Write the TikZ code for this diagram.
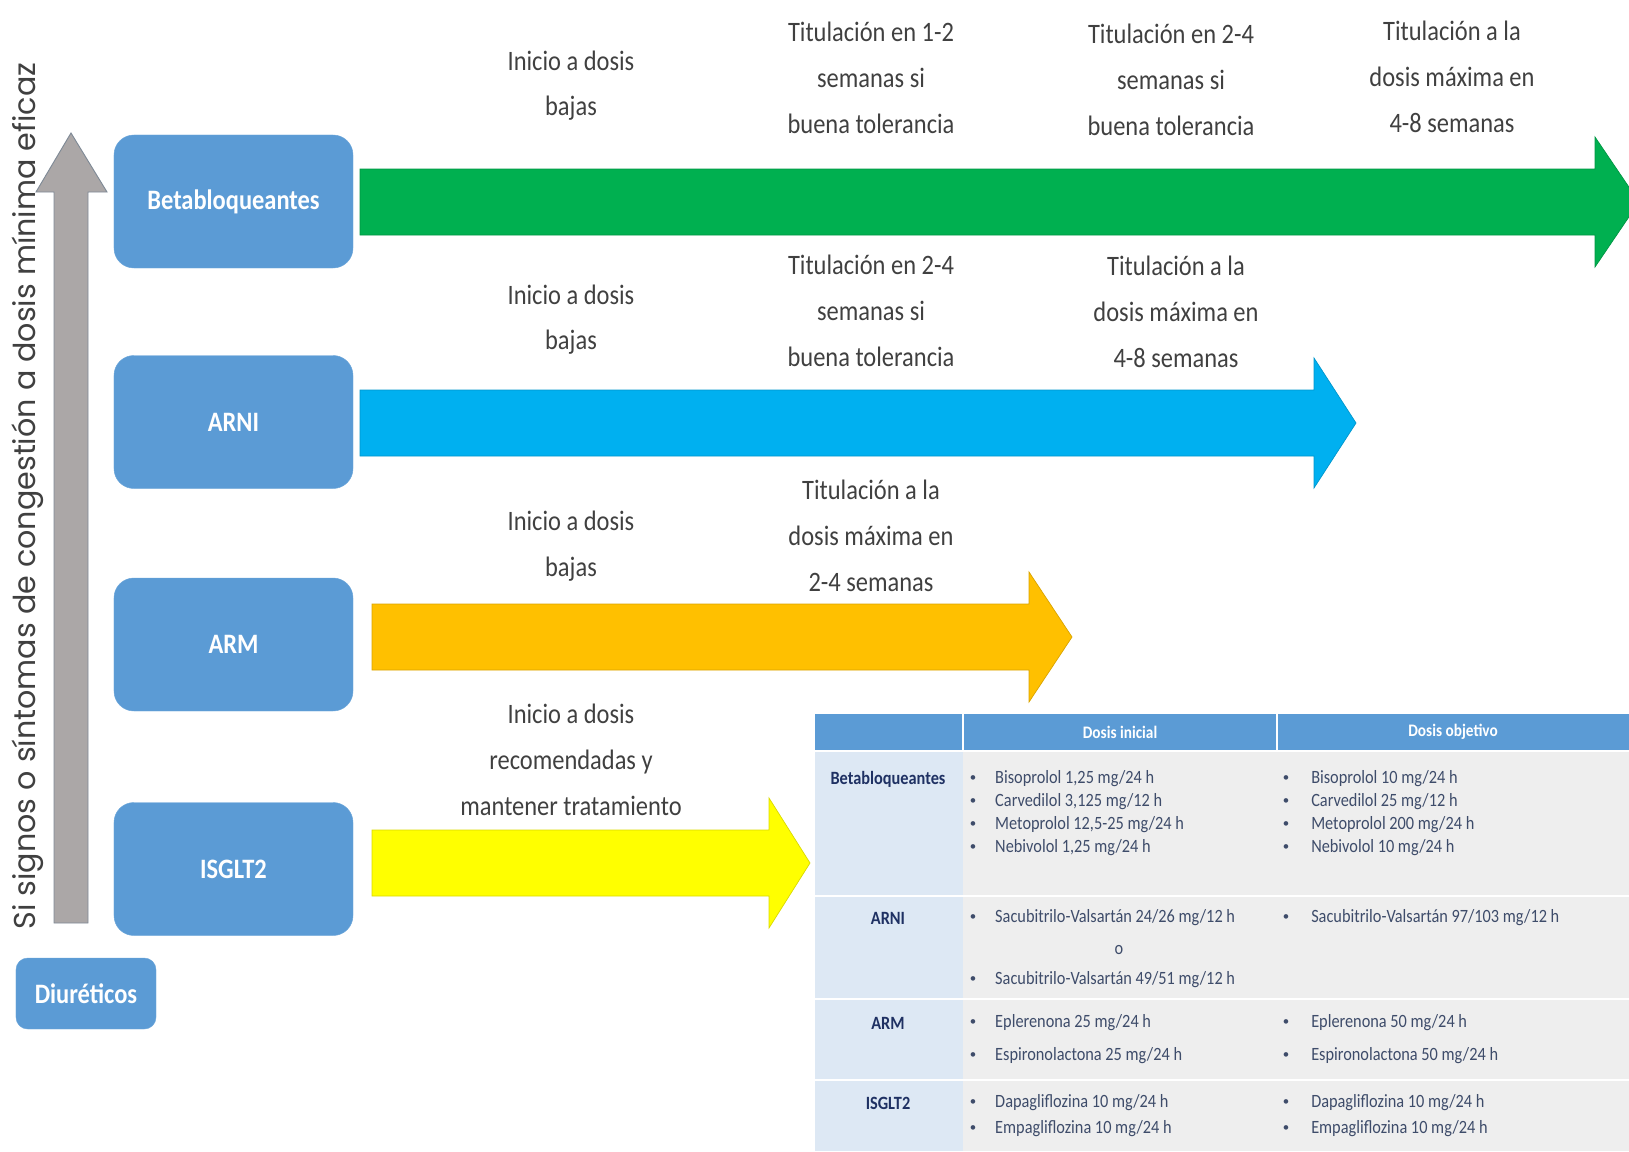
\documentclass[tikz,border=0pt]{standalone}
\usepackage{graphicx}
\usepackage{fontspec}
\setmainfont{Carlito}
\newfontfamily\narrowfont[FakeStretch=0.87]{Carlito}
\newfontfamily\geo{Poppins}
\definecolor{boxblue}{HTML}{5B9BD5}
\definecolor{arrgreen}{HTML}{00B050}
\definecolor{arrcyan}{HTML}{00B0F0}
\definecolor{arrorange}{HTML}{FFC000}
\definecolor{arryellow}{HTML}{FFFF00}
\definecolor{arrgray}{HTML}{ABA7A7}
\definecolor{arrgrayedge}{HTML}{7F8A96}
\definecolor{labgray}{HTML}{404040}
\definecolor{cellblue}{HTML}{DDE8F4}
\definecolor{cellgray}{HTML}{EEEEEE}
\definecolor{rowlab}{HTML}{1F3163}
\definecolor{itemtxt}{HTML}{3E4C6A}

% horizontal block arrow: colour, start x, head base x, tip x, centre y
\newcommand\fatarrow[5]{%
  \filldraw[fill=#1, draw=#1!85!black, line width=0.6pt]
    (#2,#5-33) -- (#3,#5-33) -- (#3,#5-65) -- (#4,#5) --
    (#3,#5+65) -- (#3,#5+33) -- (#2,#5+33) -- cycle;}

\tikzset{
  drug/.style={fill=boxblue, draw=boxblue!90!white, rounded corners=17pt,
    minimum width=7.17cm, minimum height=3.99cm, text=white,
    font=\narrowfont\fontsize{24}{28}\selectfont\bfseries, inner sep=0pt},
  steplabel/.style={align=center, text=labgray,
    font=\narrowfont\fontsize{24}{39}\selectfont, inner sep=0pt},
  hdr/.style={text=white, font=\narrowfont\fontsize{15}{17}\selectfont\bfseries, inner sep=0pt},
  rowname/.style={text=rowlab, font=\narrowfont\fontsize{16}{18}\selectfont\bfseries, inner sep=0pt},
  item/.style={anchor=west, text=itemtxt, font=\narrowfont\fontsize{16}{18}\selectfont, inner sep=0pt},
  bul/.style={text=itemtxt, font=\fontsize{11}{13}\selectfont, inner sep=0pt},
}

\begin{document}
\begin{tikzpicture}[x=0.03cm, y=-0.03cm]
\useasboundingbox (0,0) rectangle (1629,1151);
\begin{scope}
\clip (0,0) rectangle (1629,1151);

% vertical escalation arrow
\filldraw[fill=arrgray, draw=arrgrayedge, line width=0.8pt]
  (54,923) -- (54,192) -- (36,192) -- (71,133) -- (107,192) -- (88,192) -- (88,923) -- cycle;
\node[rotate=90, text=labgray, inner sep=0pt] (vtext) at (28,496)
  {\resizebox{26cm}{!}{\geo Si signos o síntomas de congestión a dosis mínima eficaz}};

% drug boxes
\node[drug] (bb) at (233.5,201.5) {Betabloqueantes};
\node[drug] (arni) at (233.5,422) {ARNI};
\node[drug] (arm) at (233.5,644.5) {ARM};
\node[drug] (isglt) at (233.5,869) {ISGLT2};
\node[drug, minimum width=4.2cm, minimum height=2.13cm, rounded corners=10pt] (diu) at (86,993.5) {Diuréticos};

% titration arrows
\fatarrow{arrgreen}{360}{1595}{1639}{202}
\fatarrow{arrcyan}{360}{1314}{1356}{423}
\fatarrow{arrorange}{372}{1029}{1072}{637}
\fatarrow{arryellow}{372}{769}{810}{863}

% step labels
\node[steplabel] (b1) at (571,85.5) {Inicio a dosis\\bajas};
\node[steplabel] (b2) at (871,78) {Titulación en 1-2\\semanas si\\buena tolerancia};
\node[steplabel] (b3) at (1171,80) {Titulación en 2-4\\semanas si\\buena tolerancia};
\node[steplabel] (b4) at (1452,77) {Titulación a la\\dosis máxima en\\4-8 semanas};
\node[steplabel] (a1) at (571,319.5) {Inicio a dosis\\bajas};
\node[steplabel] (a2) at (871,311) {Titulación en 2-4\\semanas si\\buena tolerancia};
\node[steplabel] (a3) at (1176,312) {Titulación a la\\dosis máxima en\\4-8 semanas};
\node[steplabel] (m1) at (571,546) {Inicio a dosis\\bajas};
\node[steplabel] (m2) at (871,536) {Titulación a la\\dosis máxima en\\2-4 semanas};
\node[steplabel] (s1) at (571,760) {Inicio a dosis\\recomendadas y\\mantener tratamiento};

% dose table
\fill[boxblue] (815,714) rectangle (1629,751);
\fill[cellblue] (815,751) rectangle (963,1151);
\fill[cellgray] (963,751) rectangle (1629,1151);
\draw[white, line width=1pt] (963,714) -- (963,751) (1277,714) -- (1277,751);
\draw[white, line width=1.5pt] (815,751) -- (1629,751)
  (815,896) -- (1629,896) (815,999) -- (1629,999) (815,1080) -- (1629,1080);
\node[hdr] (h1) at (1120,732) {Dosis inicial};
\node[hdr] (h2) at (1453,732) {Dosis objetivo};

\node[rowname] (rbb) at (888,779) {Betabloqueantes};
\node[rowname] (rarni) at (888,918) {ARNI};
\node[rowname] (rarm) at (888,1023) {ARM};
\node[rowname] (risg) at (888,1103) {ISGLT2};

\foreach \y/\t in {779/{Bisoprolol 1,25 mg/24 h}, 802/{Carvedilol 3,125 mg/12 h},
                   825/{Metoprolol 12,5-25 mg/24 h}, 848/{Nebivolol 1,25 mg/24 h},
                   918/{Sacubitrilo-Valsartán 24/26 mg/12 h}, 980/{Sacubitrilo-Valsartán 49/51 mg/12 h},
                   1023/{Eplerenona 25 mg/24 h}, 1056/{Espironolactona 25 mg/24 h},
                   1103/{Dapagliflozina 10 mg/24 h}, 1129/{Empagliflozina 10 mg/24 h}}
  {\node[bul] at (973,\y) {•}; \node[item] at (995,\y) {\t};}
\node[item, anchor=center] (ortext) at (1119,950) {o};

\foreach \y/\t in {779/{Bisoprolol 10 mg/24 h}, 802/{Carvedilol 25 mg/12 h},
                   825/{Metoprolol 200 mg/24 h}, 848/{Nebivolol 10 mg/24 h},
                   918/{Sacubitrilo-Valsartán 97/103 mg/12 h},
                   1023/{Eplerenona 50 mg/24 h}, 1056/{Espironolactona 50 mg/24 h},
                   1103/{Dapagliflozina 10 mg/24 h}, 1129/{Empagliflozina 10 mg/24 h}}
  {\node[bul] at (1286,\y) {•}; \node[item] at (1311,\y) {\t};}
\end{scope}
\end{tikzpicture}
\end{document}
